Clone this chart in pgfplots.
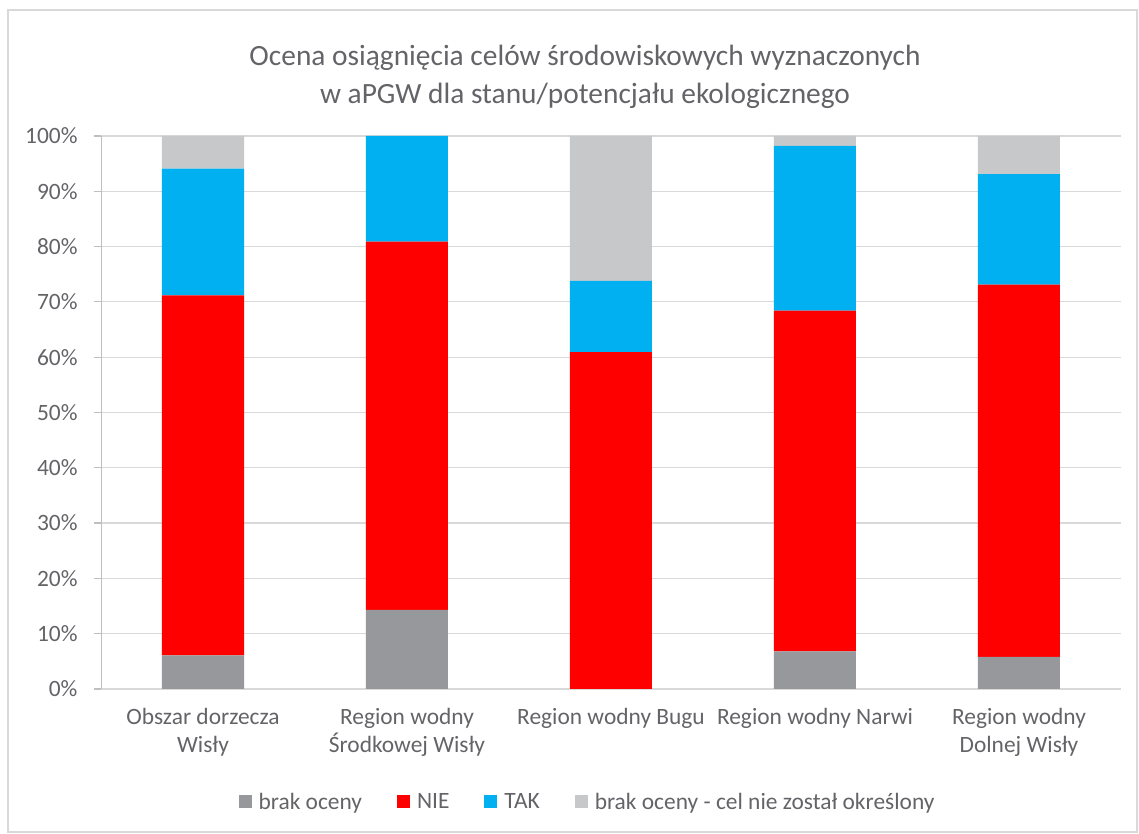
\documentclass[border=0pt]{standalone}
\usepackage{pgfplots}
\pgfplotsset{compat=1.18}
\usepackage{fontspec}
\setmainfont{Carlito}
\definecolor{cDark}{RGB}{151,152,156}
\definecolor{cRed}{RGB}{255,0,0}
\definecolor{cBlue}{RGB}{0,176,240}
\definecolor{cLight}{RGB}{199,200,202}
\definecolor{cText}{RGB}{100,100,104}
\definecolor{cGrid}{RGB}{217,217,217}
\definecolor{cAxis}{RGB}{191,191,191}
\begin{document}
\begin{tikzpicture}[x=1bp,y=1bp]
\useasboundingbox (0,0) rectangle (1139,834);
\draw[cGrid, line width=1.2bp] (8,2) rectangle (1137,824);
\node[align=center, text=cText, font=\fontsize{29.5}{38}\selectfont] at (585,757)
  {Ocena osiągnięcia celów środowiskowych wyznaczonych\\ w aPGW dla stanu/potencjału ekologicznego};
\begin{axis}[
  at={(101bp,145bp)}, anchor=south west,
  scale only axis, width=1020bp, height=553bp,
  xmin=-0.5, xmax=4.5, ymin=0, ymax=100,
  ybar stacked, bar width=82bp,
  xtick={0,1,2,3,4},
  xticklabels={{Obszar dorzecza\\Wisły},{Region wodny\\Środkowej Wisły},{Region wodny Bugu},{Region wodny Narwi},{Region wodny\\Dolnej Wisły}},
  xticklabel style={align=center, text=cText, font=\fontsize{23.5}{28}\selectfont, yshift=-16bp},
  ytick={0,10,...,100},
  yticklabel={\pgfmathprintnumber{\tick}\%},
  yticklabel style={text=cText, font=\fontsize{23.5}{26}\selectfont, xshift=-13bp},
  /pgf/number format/assume math mode=true,
  ymajorgrids, major grid style={cGrid, line width=1.2bp},
  axis line style={draw=none},
  xtick style={draw=none},
  every y tick/.style={cAxis, line width=1.2bp},
  ytick align=outside, major tick length=7bp,
  ytick pos=left, xtick pos=bottom,
  legend style={at={(0.477,-0.204)}, anchor=center, draw=none, fill=none,
    legend columns=4, font=\fontsize{23.5}{26}\selectfont, text=cText,
    /tikz/every odd column/.append style={column sep=5bp},
    /tikz/every even column/.append style={column sep=33bp}},
  legend cell align=left,
]
\addplot[fill=cDark, draw=none, legend image code/.code={\fill[cDark] (0bp,-6.5bp) rectangle (13bp,6.5bp);}]
  coordinates {(0,6.1) (1,14.3) (2,0) (3,6.8) (4,5.8)};
\addlegendentry{brak oceny}
\addplot[fill=cRed, draw=none, legend image code/.code={\fill[cRed] (0bp,-6.5bp) rectangle (13bp,6.5bp);}]
  coordinates {(0,65.1) (1,66.6) (2,60.9) (3,61.6) (4,67.3)};
\addlegendentry{NIE}
\addplot[fill=cBlue, draw=none, legend image code/.code={\fill[cBlue] (0bp,-6.5bp) rectangle (13bp,6.5bp);}]
  coordinates {(0,22.9) (1,19.1) (2,12.9) (3,29.8) (4,20.0)};
\addlegendentry{TAK}
\addplot[fill=cLight, draw=none, legend image code/.code={\fill[cLight] (0bp,-6.5bp) rectangle (13bp,6.5bp);}]
  coordinates {(0,5.9) (1,0) (2,26.2) (3,1.8) (4,6.9)};
\addlegendentry{brak oceny - cel nie został określony}
\draw[cAxis, line width=1.2bp] (rel axis cs:0,0) -- (rel axis cs:0,1);
\end{axis}
\end{tikzpicture}
\end{document}
